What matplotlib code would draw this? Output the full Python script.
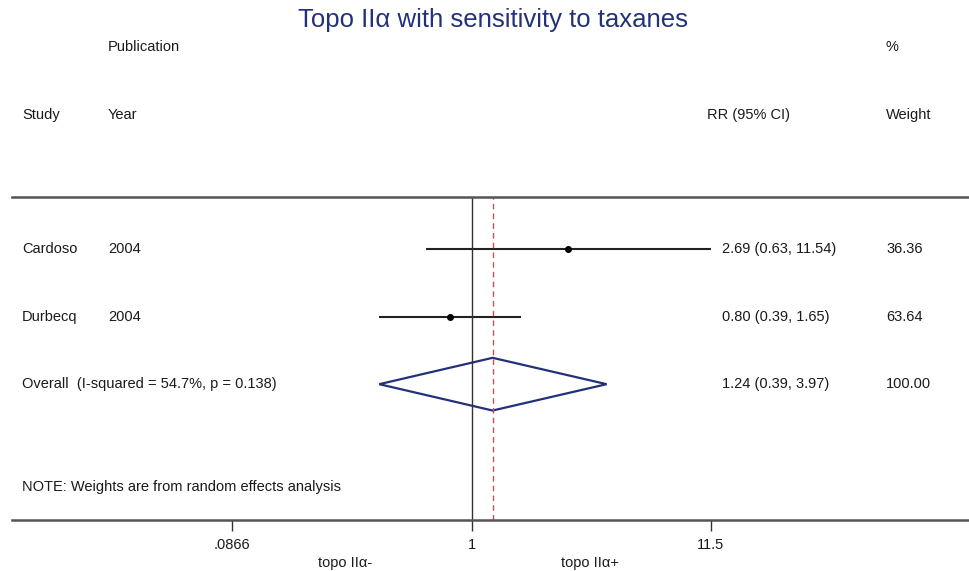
import matplotlib.pyplot as plt
import numpy as np

plt.rcParams['font.family'] = ['Liberation Sans', 'DejaVu Sans']

# datos del forest plot
studies = ['Cardoso', 'Durbecq']
years = ['2004', '2004']
rr = [2.69, 0.80]
lo = [0.63, 0.39]
hi = [11.54, 1.65]
weights = ['36.36', '63.64']
overall_rr = 1.24
overall_lo = 0.39
overall_hi = 3.97
overall_label = 'Overall  (I-squared = 54.7%, p = 0.138)'
xticks = [0.0866, 1, 11.5]
xtick_labels = ['.0866', '1', '11.5']

W, H = 970, 571
fig = plt.figure(figsize=(W / 100, H / 100), dpi=100)

def fx(px):
    return px / W

def fy(py):
    return 1 - py / H

# zona del gráfico: de y=197 a y=520 px
ax = fig.add_axes([fx(12), fy(520), fx(970 - 12), (520 - 197) / H])
ax.set_xscale('log')
ax.set_xlim(0.00918, 162.1)
ax.set_ylim(5.01, 0.23)

navy = '#23317a'
txt = '#1a1a1a'
fs = 10.5

rows = np.arange(1, len(studies) + 1)
for i, y in enumerate(rows):
    ax.plot([lo[i], hi[i]], [y, y], color='#222222', lw=1.5, solid_capstyle='butt')
    ax.plot(rr[i], y, 'o', color='black', ms=4)

# diamante del resultado global
yo = len(studies) + 1
dh = 0.39
ax.fill([overall_lo, overall_rr, overall_hi, overall_rr, overall_lo],
        [yo, yo - dh, yo, yo + dh, yo], facecolor='none', edgecolor=navy, lw=1.6)

ax.axvline(1, color='#333333', lw=1.0)
ax.axvline(overall_rr, color='#c8505a', lw=1.0, ls=(0, (4, 3)))

for s in ['left', 'right']:
    ax.spines[s].set_visible(False)
for s in ['top', 'bottom']:
    ax.spines[s].set_color('#555555')
    ax.spines[s].set_linewidth(1.8)
ax.set_yticks([])
ax.minorticks_off()
ax.set_xticks(xticks)
ax.set_xticklabels(xtick_labels, fontsize=fs, color=txt)
ax.tick_params(axis='x', which='major', direction='out', length=8, width=1.0,
               color='#333333', pad=5)
ax.tick_params(axis='x', which='minor', length=0)
ax.patch.set_alpha(0)

# títulos y cabeceras
fig.text(fx(493), fy(20), 'Topo IIα with sensitivity to taxanes', ha='center', va='center',
         fontsize=18.5, color=navy)
fig.text(fx(108), fy(47), 'Publication', ha='left', va='center', fontsize=fs, color=txt)
fig.text(fx(886), fy(47), '%', ha='left', va='center', fontsize=fs, color=txt)
fig.text(fx(22), fy(115), 'Study', ha='left', va='center', fontsize=fs, color=txt)
fig.text(fx(108), fy(115), 'Year', ha='left', va='center', fontsize=fs, color=txt)
fig.text(fx(707), fy(115), 'RR (95% CI)', ha='left', va='center', fontsize=fs, color=txt)
fig.text(fx(886), fy(115), 'Weight', ha='left', va='center', fontsize=fs, color=txt)

tr = ax.get_yaxis_transform()
for i, y in enumerate(rows):
    ax.text(fx(22 - 12) / fx(958), y, studies[i], transform=tr, ha='left', va='center', fontsize=fs, color=txt)
    ax.text(fx(108 - 12) / fx(958), y, years[i], transform=tr, ha='left', va='center', fontsize=fs, color=txt)
    ax.text(fx(722 - 12) / fx(958), y, '%.2f (%.2f, %.2f)' % (rr[i], lo[i], hi[i]),
            transform=tr, ha='left', va='center', fontsize=fs, color=txt)
    ax.text(fx(886 - 12) / fx(958), y, weights[i], transform=tr, ha='left', va='center', fontsize=fs, color=txt)

ax.text(fx(22 - 12) / fx(958), yo, overall_label, transform=tr, ha='left', va='center', fontsize=fs, color=txt)
ax.text(fx(722 - 12) / fx(958), yo, '%.2f (%.2f, %.2f)' % (overall_rr, overall_lo, overall_hi),
        transform=tr, ha='left', va='center', fontsize=fs, color=txt)
ax.text(fx(886 - 12) / fx(958), yo, '100.00', transform=tr, ha='left', va='center', fontsize=fs, color=txt)

fig.text(fx(22), fy(487), 'NOTE: Weights are from random effects analysis', ha='left', va='center',
         fontsize=fs, color=txt)
fig.text(fx(345), fy(563), 'topo IIα-', ha='center', va='center', fontsize=fs, color=txt)
fig.text(fx(590), fy(563), 'topo IIα+', ha='center', va='center', fontsize=fs, color=txt)

fig.savefig('out.png', dpi=100, facecolor='white')
